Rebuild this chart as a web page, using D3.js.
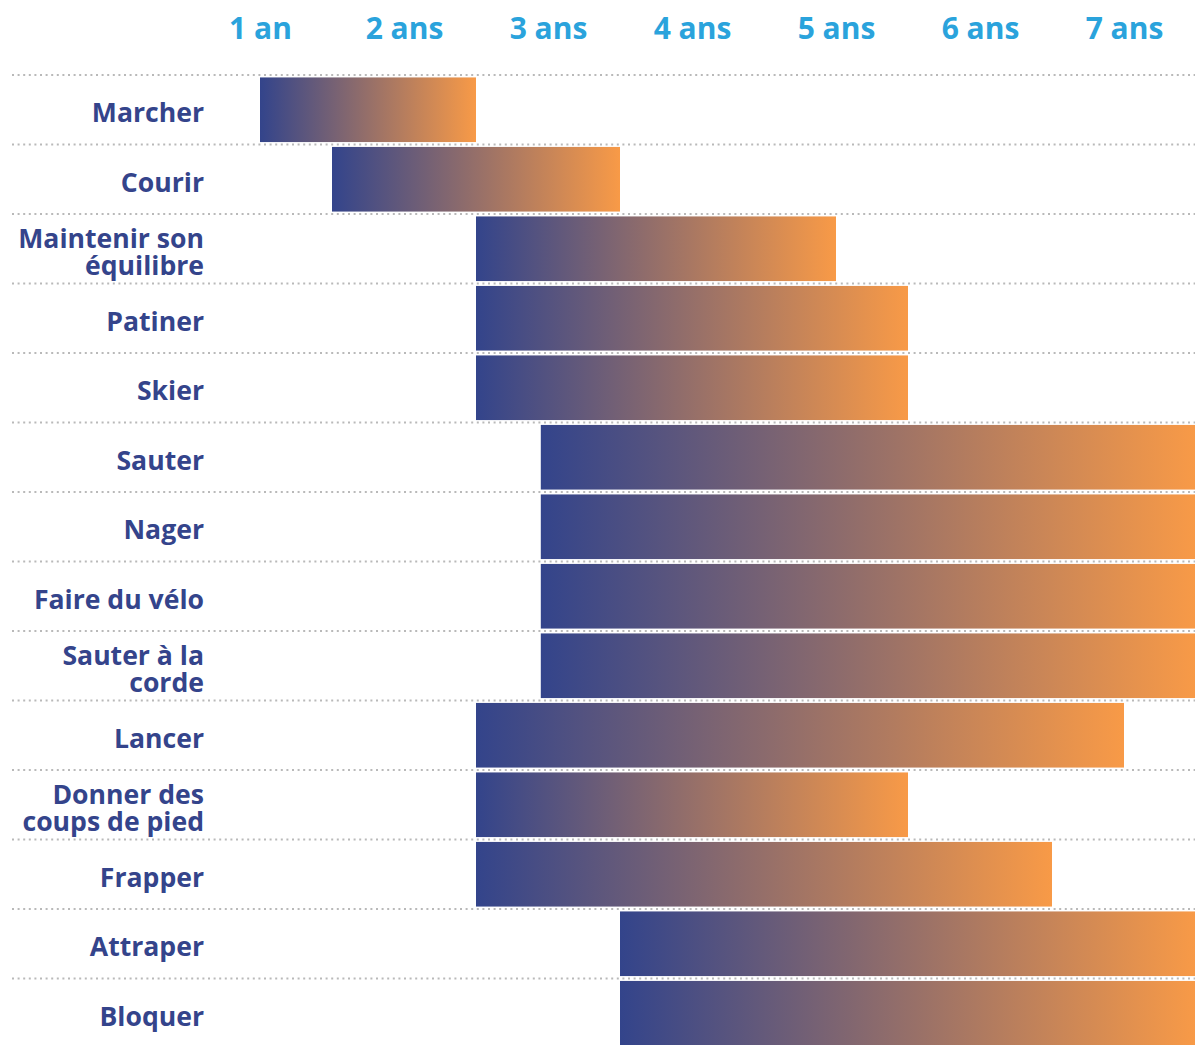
<!DOCTYPE html>
<html>
<head>
<meta charset="utf-8">
<script src="https://cdn.jsdelivr.net/npm/d3@7"></script>
<style>
  body { margin: 0; background: #fff; }
  svg { display: block; font-family: "Open Sans", sans-serif; }
</style>
</head>
<body>
<div id="chart"></div>
<script>
// activités et âges (en années)
const activites = [
  ["Marcher"],
  ["Courir"],
  ["Maintenir son", "équilibre"],
  ["Patiner"],
  ["Skier"],
  ["Sauter"],
  ["Nager"],
  ["Faire du vélo"],
  ["Sauter à la", "corde"],
  ["Lancer"],
  ["Donner des", "coups de pied"],
  ["Frapper"],
  ["Attraper"],
  ["Bloquer"]
];
const debut = [1, 1.5, 2.5, 2.5, 2.5, 2.95, 2.95, 2.95, 2.95, 2.5, 2.5, 2.5, 3.5, 3.5];
const fin   = [2.5, 3.5, 5, 5.5, 5.5, 7.5, 7.5, 7.5, 7.5, 7, 5.5, 6.5, 7.5, 7.5];
const ticks = [1, 2, 3, 4, 5, 6, 7];
const tickLabels = ["1 an", "2 ans", "3 ans", "4 ans", "5 ans", "6 ans", "7 ans"];

const width = 1195, height = 1045;

const data = activites.map(function(a, i) {
  return {id: i, label: a, start: debut[i], end: fin[i]};
});

const svg = d3.select("#chart")
  .append("svg")
  .attr("width", width)
  .attr("height", height);

const x = d3.scaleLinear()
  .domain([1, 7.5])
  .range([260, 1196]);

const y = d3.scaleBand()
  .domain(data.map(function(d) { return d.id; }))
  .range([75, 75 + 14 * 69.5])
  .paddingInner(0.07)
  .paddingOuter(0.035);

const step = y.step();
const gap = step * 0.07 / 2;

// gradient bleu -> orange
const grad = svg.append("defs")
  .append("linearGradient")
  .attr("id", "barGrad")
  .attr("x1", "0%").attr("x2", "100%")
  .attr("y1", "0%").attr("y2", "0%");
grad.append("stop").attr("offset", "0%").attr("stop-color", "#33448b");
grad.append("stop").attr("offset", "100%").attr("stop-color", "#f89a47");

// axe du haut
const axisTop = svg.append("g")
  .attr("transform", "translate(0, 39)")
  .call(d3.axisTop(x).tickValues(ticks).tickSize(0).tickPadding(0)
    .tickFormat(function(d, i) { return tickLabels[i]; }));
axisTop.select(".domain").remove();
axisTop.selectAll("text")
  .attr("dy", 0)
  .style("font-family", "'Open Sans', sans-serif")
  .style("font-size", "30px")
  .style("font-weight", "700")
  .attr("fill", "#2aa3dc");

// lignes pointillées
svg.append("g")
  .selectAll("line")
  .data(data)
  .enter()
  .append("line")
  .attr("x1", 12)
  .attr("x2", width)
  .attr("y1", function(d) { return y(d.id) - gap; })
  .attr("y2", function(d) { return y(d.id) - gap; })
  .attr("stroke", "#b9b9b9")
  .attr("stroke-width", 2)
  .attr("stroke-dasharray", "2,3.6");

// barres
svg.append("g")
  .selectAll("rect")
  .data(data)
  .enter()
  .append("rect")
  .attr("x", function(d) { return x(d.start); })
  .attr("y", function(d) { return y(d.id); })
  .attr("width", function(d) { return x(d.end) - x(d.start); })
  .attr("height", y.bandwidth())
  .attr("fill", "url(#barGrad)");

// libellés
const labels = svg.append("g")
  .selectAll("text")
  .data(data)
  .enter()
  .append("text")
  .attr("text-anchor", "end")
  .attr("fill", "#34448b")
  .style("font-size", "26.6px")
  .style("font-weight", "700")
  .attr("transform", function(d) {
    return "translate(204," + (y(d.id) + y.bandwidth() / 2 + 3) + ")";
  });

labels.each(function(d) {
  const t = d3.select(this);
  const n = d.label.length;
  d.label.forEach(function(line, i) {
    t.append("tspan")
      .attr("x", 0)
      .attr("y", (i - (n - 1) / 2) * 27)
      .attr("dy", "0.36em")
      .text(line);
  });
});
</script>
</body>
</html>
